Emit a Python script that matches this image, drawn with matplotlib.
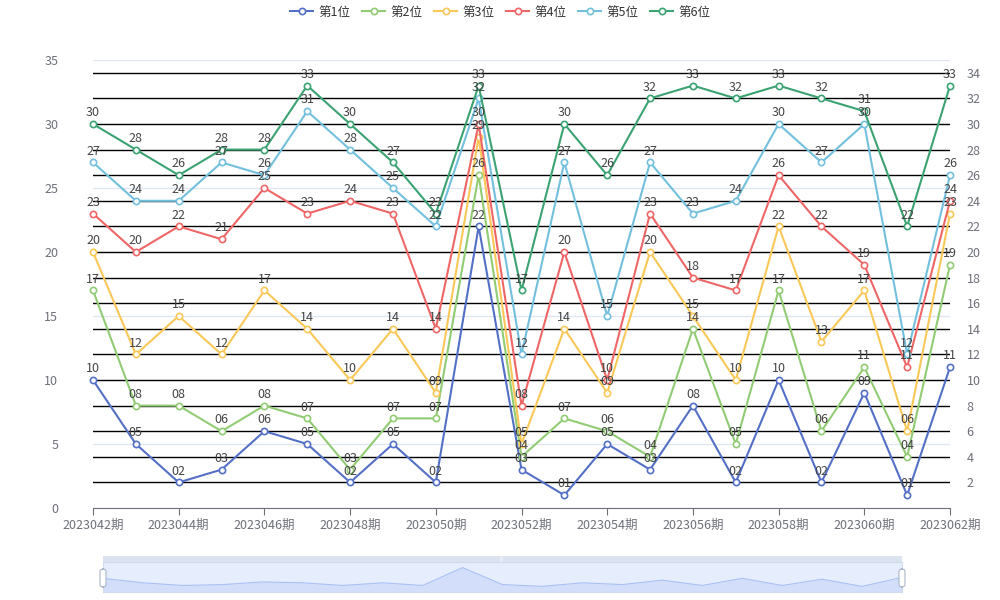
import matplotlib.pyplot as plt
from matplotlib.patches import Rectangle, FancyBboxPatch

plt.rcParams['font.family'] = ['Noto Sans CJK SC', 'DejaVu Sans']

# =====================================================
# DATA
# =====================================================

periods = [f"2023{n:03d}期" for n in range(42, 63)]

series_names = ['第1位', '第2位', '第3位', '第4位', '第5位', '第6位']

pos1 = [10, 5, 2, 3, 6, 5, 2, 5, 2, 22, 3, 1, 5, 3, 8, 2, 10, 2, 9, 1, 11]
pos2 = [17, 8, 8, 6, 8, 7, 3, 7, 7, 26, 4, 7, 6, 4, 14, 5, 17, 6, 11, 4, 19]
pos3 = [20, 12, 15, 12, 17, 14, 10, 14, 9, 29, 5, 14, 9, 20, 15, 10, 22, 13, 17, 6, 23]
pos4 = [23, 20, 22, 21, 25, 23, 24, 23, 14, 30, 8, 20, 10, 23, 18, 17, 26, 22, 19, 11, 24]
pos5 = [27, 24, 24, 27, 26, 31, 28, 25, 22, 32, 12, 27, 15, 27, 23, 24, 30, 27, 30, 12, 26]
pos6 = [30, 28, 26, 28, 28, 33, 30, 27, 23, 33, 17, 30, 26, 32, 33, 32, 33, 32, 31, 22, 33]

all_series = [pos1, pos2, pos3, pos4, pos5, pos6]

colors = ['#5470c6', '#91cc75', '#fac858', '#ee6666', '#73c0de', '#3ba272']

# =====================================================
# FIGURE
# =====================================================

fig = plt.figure(figsize=(10, 6), dpi=100)

W, H = 1000, 600
left, right, top, bottom = 93, 950, 60, 508
ax = fig.add_axes([left / W, 1 - bottom / H, (right - left) / W, (bottom - top) / H])
ax2 = ax.twinx()

x = list(range(len(periods)))

# left axis: light grid
ax.set_xlim(0, len(periods) - 1)
ax.set_ylim(0, 35)
ax.set_yticks(range(0, 36, 5))
ax.grid(axis='y', color='#e0e6f1', linewidth=1)
ax.set_axisbelow(True)
ax.tick_params(axis='y', length=0, labelsize=9, labelcolor='#6e7079', pad=25)
ax.set_xticks(x[::2])
ax.set_xticklabels(periods[::2])
ax.tick_params(axis='x', length=5, color='#6e7079', labelsize=9,
               labelcolor='#6e7079', pad=3)
for s in ['top', 'left', 'right']:
    ax.spines[s].set_visible(False)
ax.spines['bottom'].set_color('#6e7079')

# right axis: black grid, series on top
ax2.set_ylim(0, 35)
ax2.set_yticks(range(2, 35, 2))
ax2.grid(axis='y', color='black', linewidth=1)
ax2.tick_params(axis='y', length=0, labelsize=9, labelcolor='#6e7079', pad=12)
for s in ax2.spines.values():
    s.set_visible(False)

for name, vals, c in zip(series_names, all_series, colors):
    ax2.plot(x, vals, color=c, linewidth=1.5, marker='o', markersize=4.5,
             markerfacecolor='white', markeredgecolor=c, markeredgewidth=1.2,
             label=name, zorder=3, clip_on=False)

for vals in all_series:
    for i, v in enumerate(vals):
        ax2.annotate(f"{v:02d}", (i, v), xytext=(0, 3.5), textcoords='offset points',
                     ha='center', va='bottom', fontsize=9, color='#444444',
                     zorder=5)

handles, labels = ax2.get_legend_handles_labels()
fig.legend(handles, labels, loc='upper center', bbox_to_anchor=(0.5, 1.009),
           ncol=6, frameon=False, fontsize=9, handlelength=1.9,
           columnspacing=0.9, handletextpad=0.4, labelcolor='#333333')

# =====================================================
# DATA ZOOM SLIDER
# =====================================================

sx0, sx1 = 103, 902
fig.add_artist(Rectangle((sx0 / W, 1 - 562 / H), (sx1 - sx0) / W, 6 / H,
                         transform=fig.transFigure, facecolor='#dbe2f0',
                         edgecolor='none', zorder=-1))

sl = fig.add_axes([sx0 / W, 1 - 592 / H, (sx1 - sx0) / W, 30 / H])
lo, hi = min(pos1), max(pos1)
pad = (hi - lo) * 0.3
sl.set_xlim(0, len(periods) - 1)
sl.set_ylim(lo - pad, hi + pad)
sl.set_facecolor('#e6edfc')
sl.fill_between(x, lo - pad, pos1, color='#d3dffa', linewidth=0)
sl.plot(x, pos1, color='#a9c0f5', linewidth=0.8)
sl.set_xticks([])
sl.set_yticks([])
for s in sl.spines.values():
    s.set_color('#d2dbee')
    s.set_linewidth(0.8)

for hx in [sx0, sx1]:
    fig.add_artist(FancyBboxPatch(((hx - 3) / W, 1 - 587 / H), 6 / W, 18 / H,
                                  boxstyle='round,pad=0,rounding_size=0.004',
                                  transform=fig.transFigure, facecolor='white',
                                  edgecolor='#aab6c9', linewidth=0.8, zorder=5))
fig.text(0.502, 1 - 559 / H, '|||', fontsize=4, color='white',
         ha='center', va='center')

plt.savefig("out.png", dpi=100)
